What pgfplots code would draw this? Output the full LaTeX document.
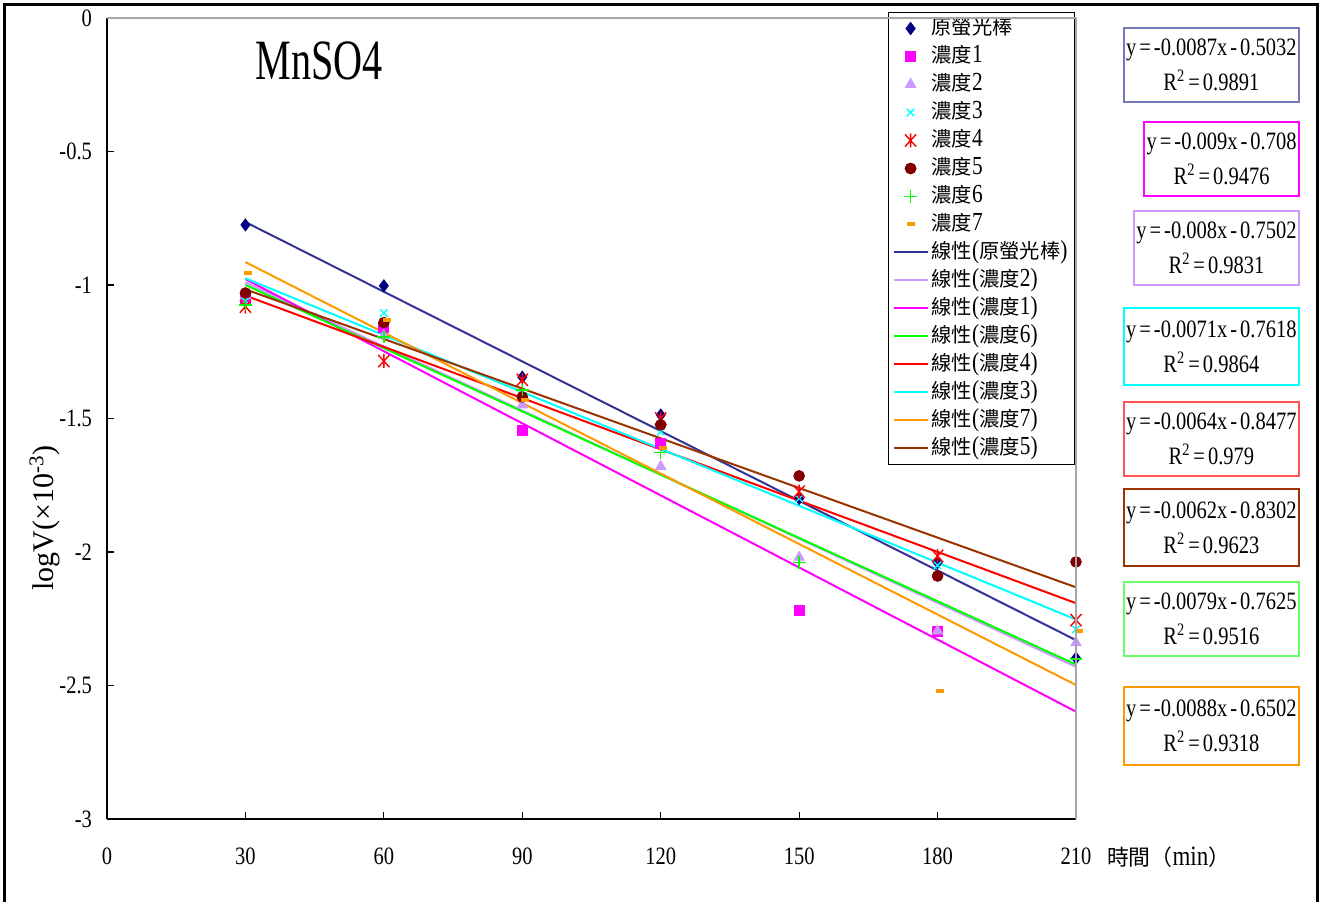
\documentclass[border=0pt]{standalone}
\usepackage{fontspec}
\setmainfont{Liberation Serif}[FakeStretch=0.82]
\newfontfamily\cjk{Noto Sans CJK TC}[Scale=0.78]
\newfontfamily\plainserif{Liberation Serif}
\usepackage{graphicx}
\usepackage{pgfplots}
\pgfplotsset{compat=1.18}
\definecolor{cnavy}{HTML}{000080}
\definecolor{lnavy}{HTML}{333399}
\definecolor{bnavy}{HTML}{7777BB}
\definecolor{cmag}{HTML}{FF00FF}
\definecolor{clav}{HTML}{CC99FF}
\definecolor{ccyan}{HTML}{00FFFF}
\definecolor{cred}{HTML}{FF0000}
\definecolor{bred}{HTML}{FF5555}
\definecolor{cbrown}{HTML}{800000}
\definecolor{lbrown}{HTML}{993300}
\definecolor{cgreen}{HTML}{00FF00}
\definecolor{bgreen}{HTML}{66FF66}
\definecolor{corange}{HTML}{FF9900}
\newcommand{\eqfont}{\fontsize{12.5}{17.5}\selectfont\spaceskip=0.12em\relax}
\newcommand{\eqtext}[2]{#1\\R\textsuperscript{2} = #2}
\pgfdeclareplotmark{xbar}{%
  \pgfpathmoveto{\pgfqpoint{-\pgfplotmarksize}{-1.1\pgfplotmarksize}}%
  \pgfpathlineto{\pgfqpoint{\pgfplotmarksize}{1.1\pgfplotmarksize}}%
  \pgfpathmoveto{\pgfqpoint{-\pgfplotmarksize}{1.1\pgfplotmarksize}}%
  \pgfpathlineto{\pgfqpoint{\pgfplotmarksize}{-1.1\pgfplotmarksize}}%
  \pgfpathmoveto{\pgfqpoint{0pt}{-1.25\pgfplotmarksize}}%
  \pgfpathlineto{\pgfqpoint{0pt}{1.25\pgfplotmarksize}}%
  \pgfusepathqstroke}
\begin{document}
\begin{tikzpicture}
\useasboundingbox (0pt,0pt) rectangle (659.5pt,451pt);
\draw[line width=1.5pt] (2.25pt,0pt) -- (2.25pt,448.5pt) -- (658.6pt,448.5pt) -- (658.6pt,0pt);
\begin{axis}[
  at={(53.5pt,41.5pt)}, anchor=south west,
  scale only axis, width=484.5pt, height=400.5pt,
  xmin=0, xmax=210, ymin=-3, ymax=0,
  axis lines=left,
  axis line style={-, black, line width=0.6pt},
  xtick={0,30,60,90,120,150,180,210},
  xticklabels={0,30,60,90,120,150,180,210},
  ytick={-3,-2.5,-2,-1.5,-1,-0.5,0},
  yticklabels={-3,-2.5,-2,-1.5,-1,-0.5,0},
  tick align=inside, major tick length=3.5pt,
  tick style={black, line width=0.6pt},
  ticklabel style={font=\fontsize{12.5}{14}\selectfont},
  xticklabel style={yshift=-11pt},
  yticklabel style={xshift=-4pt},
  clip=false,
  ylabel={\plainserif\fontsize{15}{18}\selectfont logV(×10\textsuperscript{-3})},
  ylabel style={at={(rel axis cs:-0.064,0.376)}, anchor=center},
  xlabel={{\cjk 時間（}min{\cjk ）}},
  xlabel style={at={(rel axis cs:1,0)}, anchor=west, xshift=12pt, yshift=-19pt, font=\fontsize{14}{15}\selectfont},
  extra description/.code={
    \draw[gray!70, line width=0.6pt] (rel axis cs:0,1) -- (rel axis cs:1,1) -- (rel axis cs:1,0);
  },
  legend style={at={(rel axis cs:0.806,1.0075)}, anchor=north west, draw=black, line width=0.5pt,
    font=\fontsize{13}{14}\selectfont, inner xsep=2pt, inner ysep=1pt, row sep=0pt,
    nodes={inner sep=1.5pt, text height=8.4pt, text depth=2.6pt}},
  legend cell align=left,
]
% data points
\addplot[only marks, mark=diamond*, mark size=3pt, color=cnavy] coordinates {(30,-0.775) (60,-1.003) (90,-1.345) (120,-1.487) (150,-1.80) (180,-2.04) (210,-2.397)};
\addlegendentry{\cjk 原螢光棒}
\addplot[only marks, mark=square*, mark size=2.5pt, color=cmag] coordinates {(30,-1.05) (60,-1.16) (90,-1.545) (120,-1.595) (150,-2.217) (180,-2.296)};
\addlegendentry{{\cjk 濃度}1}
\addplot[only marks, mark=triangle*, mark size=3pt, color=clav] coordinates {(30,-1.04) (60,-1.19) (90,-1.449) (120,-1.68) (150,-2.02) (180,-2.296) (210,-2.34)};
\addlegendentry{{\cjk 濃度}2}
\addplot[only marks, mark=x, mark size=2.6pt, line width=0.7pt, color=ccyan] coordinates {(30,-1.06) (60,-1.105) (90,-1.42) (120,-1.549) (150,-1.80) (180,-2.05) (210,-2.29)};
\addlegendentry{{\cjk 濃度}3}
\addplot[only marks, mark=xbar, mark size=2.8pt, line width=0.7pt, color=cred] coordinates {(30,-1.081) (60,-1.285) (90,-1.355) (120,-1.50) (150,-1.774) (180,-2.015) (210,-2.255)};
\addlegendentry{{\cjk 濃度}4}
\addplot[only marks, mark=*, mark size=2.7pt, color=cbrown] coordinates {(30,-1.03) (60,-1.141) (90,-1.419) (120,-1.524) (150,-1.715) (180,-2.09) (210,-2.037)};
\addlegendentry{{\cjk 濃度}5}
\addplot[only marks, mark=+, mark size=3.2pt, line width=0.7pt, color=cgreen] coordinates {(30,-1.075) (60,-1.195) (90,-1.393) (120,-1.628) (150,-2.04) (210,-2.40)};
\addlegendentry{{\cjk 濃度}6}
\addplot[only marks, mark=-, mark size=2pt, line width=2pt, color=corange] coordinates {(30.6,-0.955) (60.6,-1.131) (90.6,-1.43) (120.6,-1.61) (180.6,-2.52) (210.6,-2.296)};
\addlegendentry{{\cjk 濃度}7}
% trend lines
\addplot[no marks, line width=1pt, color=lnavy] coordinates {(30,-0.7642) (210,-2.3302)};
\addlegendentry{{\cjk 線性}({\cjk 原螢光棒})}
\addplot[no marks, line width=1pt, color=clav] coordinates {(30,-0.9902) (210,-2.4302)};
\addlegendentry{{\cjk 線性}({\cjk 濃度}2)}
\addplot[no marks, line width=1pt, color=cmag] coordinates {(30,-0.978) (210,-2.598)};
\addlegendentry{{\cjk 線性}({\cjk 濃度}1)}
\addplot[no marks, line width=1pt, color=cgreen] coordinates {(30,-0.9995) (210,-2.4215)};
\addlegendentry{{\cjk 線性}({\cjk 濃度}6)}
\addplot[no marks, line width=1pt, color=cred] coordinates {(30,-1.0397) (210,-2.1917)};
\addlegendentry{{\cjk 線性}({\cjk 濃度}4)}
\addplot[no marks, line width=1pt, color=ccyan] coordinates {(30,-0.9748) (210,-2.2528)};
\addlegendentry{{\cjk 線性}({\cjk 濃度}3)}
\addplot[no marks, line width=1pt, color=corange] coordinates {(30,-0.9142) (210,-2.4982)};
\addlegendentry{{\cjk 線性}({\cjk 濃度}7)}
\addplot[no marks, line width=1pt, color=lbrown] coordinates {(30,-1.0162) (210,-2.1322)};
\addlegendentry{{\cjk 線性}({\cjk 濃度}5)}
\end{axis}
% title
\node[anchor=base west, inner sep=0pt] at (127.5pt,411pt) {\fontsize{28.5}{30}\selectfont\scalebox{0.86}[1]{MnSO4}};
% equation boxes
\tikzset{eqbox/.style={anchor=north east, draw=#1, line width=1pt, align=center, minimum height=37pt, inner xsep=1.2pt, inner ysep=1pt, font=\eqfont}}
\node[eqbox=bnavy] at (650pt,437.5pt) {\eqtext{y = -0.0087x - 0.5032}{0.9891}};
\node[eqbox=cmag] at (650pt,390.5pt) {\eqtext{y = -0.009x - 0.708}{0.9476}};
\node[eqbox=clav] at (650pt,346pt) {\eqtext{y = -0.008x - 0.7502}{0.9831}};
\node[eqbox=ccyan, minimum height=38.5pt] at (650pt,297.5pt) {\eqtext{y = -0.0071x - 0.7618}{0.9864}};
\node[eqbox=bred] at (650pt,250.5pt) {\eqtext{y = -0.0064x - 0.8477}{0.979}};
\node[eqbox=lbrown, minimum height=38.5pt] at (650pt,207pt) {\eqtext{y = -0.0062x - 0.8302}{0.9623}};
\node[eqbox=bgreen] at (650pt,160.5pt) {\eqtext{y = -0.0079x - 0.7625}{0.9516}};
\node[eqbox=corange, minimum height=39pt] at (650pt,108pt) {\eqtext{y = -0.0088x - 0.6502}{0.9318}};
\end{tikzpicture}
\end{document}
